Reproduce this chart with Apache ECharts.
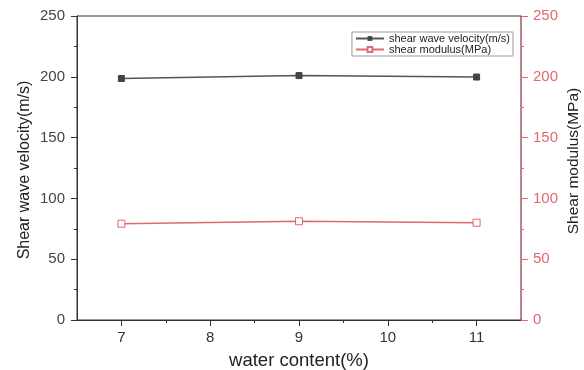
<!DOCTYPE html>
<html><head><meta charset="utf-8">
<script src="https://cdn.jsdelivr.net/npm/echarts@6/dist/echarts.min.js"></script>
<style>html,body{margin:0;padding:0;background:#fff}#c{width:584px;height:370px}</style>
</head><body><div id="c"></div>
<script>
const waterContent = [7, 9, 11];
const shearWaveVelocity = [198.6, 201.0, 199.8];
const shearModulus = [79.2, 81.2, 80.0];
const xTickLabels = [7, 8, 9, 10, 11];
const xHalfTicks = [7.5, 8.5, 9.5, 10.5];

const red = '#e06870';
const font = 'Liberation Sans, Arial, sans-serif';
const chart = echarts.init(document.getElementById('c'));
chart.setOption({
  animation: false,
  grid: { left: 77, right: 63, top: 16, bottom: 50, outerBoundsMode: 'none', containLabel: false,
          show: true, borderColor: '#333', borderWidth: 1 },
  legend: {
    right: 71, top: 32, orient: 'vertical', itemGap: 0,
    borderColor: '#999', borderWidth: 1, padding: [1, 3, 1, 3],
    itemWidth: 28, itemHeight: 6,
    textStyle: { fontSize: 11, lineHeight: 11, fontFamily: font, color: '#222' },
    data: ['shear wave velocity(m/s)', 'shear modulus(MPa)']
  },
  xAxis: [{
    type: 'value', min: 6.5, max: 11.5, position: 'bottom',
    name: 'water content(%)', nameLocation: 'middle', nameGap: 31, nameMoveOverlap: false,
    nameTextStyle: { fontSize: 18.5, fontFamily: font, color: '#222' },
    axisLine: { lineStyle: { color: '#333' } },
    axisTick: { show: true, length: 6, customValues: xTickLabels, lineStyle: { color: '#333' } },
    axisLabel: { customValues: xTickLabels, fontSize: 15, fontFamily: font, color: '#333', margin: 10 },
    splitLine: { show: false }
  }, {
    type: 'value', min: 6.5, max: 11.5, position: 'bottom',
    axisLine: { show: false },
    axisTick: { show: true, length: 3, customValues: xHalfTicks, lineStyle: { color: '#333' } },
    axisLabel: { show: false }, splitLine: { show: false }
  }],
  yAxis: [{
    type: 'value', min: 0, max: 250, interval: 50, position: 'left',
    name: 'Shear wave velocity(m/s)', nameLocation: 'middle', nameGap: 44, nameRotate: 90, nameMoveOverlap: false,
    nameTextStyle: { fontSize: 16, fontFamily: font, color: '#222', padding: [0, 4, 0, 0] },
    axisLine: { show: true, lineStyle: { color: '#333' } },
    axisTick: { show: true, length: 6, lineStyle: { color: '#333' } },
    minorTick: { show: true, splitNumber: 2, length: 3, lineStyle: { color: '#333' } },
    axisLabel: { fontSize: 15, fontFamily: font, color: '#444', margin: 12 },
    splitLine: { show: false }
  }, {
    type: 'value', min: 0, max: 250, interval: 50, position: 'right',
    name: 'Shear modulus(MPa)', nameLocation: 'middle', nameGap: 45, nameRotate: 90, nameMoveOverlap: false,
    nameTextStyle: { fontSize: 15.5, fontFamily: font, color: '#222', padding: [0, 0, 0, 14] },
    axisLine: { show: true, lineStyle: { color: red } },
    axisTick: { show: true, length: 7, lineStyle: { color: red } },
    minorTick: { show: true, splitNumber: 2, length: 3, lineStyle: { color: red } },
    axisLabel: { fontSize: 15, fontFamily: font, color: red, margin: 12 },
    splitLine: { show: false }
  }],
  series: [{
    name: 'shear wave velocity(m/s)', type: 'line', xAxisIndex: 0, yAxisIndex: 0,
    data: waterContent.map((x, i) => [x, shearWaveVelocity[i]]),
    symbol: 'rect', symbolSize: 6,
    lineStyle: { color: '#555', width: 1.5 },
    itemStyle: { color: '#444', borderColor: '#444' }
  }, {
    name: 'shear modulus(MPa)', type: 'line', xAxisIndex: 0, yAxisIndex: 1,
    data: waterContent.map((x, i) => [x, shearModulus[i]]),
    symbol: 'rect', symbolSize: 7,
    lineStyle: { color: red, width: 1.5 },
    itemStyle: { color: '#fff', borderColor: red, borderWidth: 1 }
  }]
});
</script></body></html>
